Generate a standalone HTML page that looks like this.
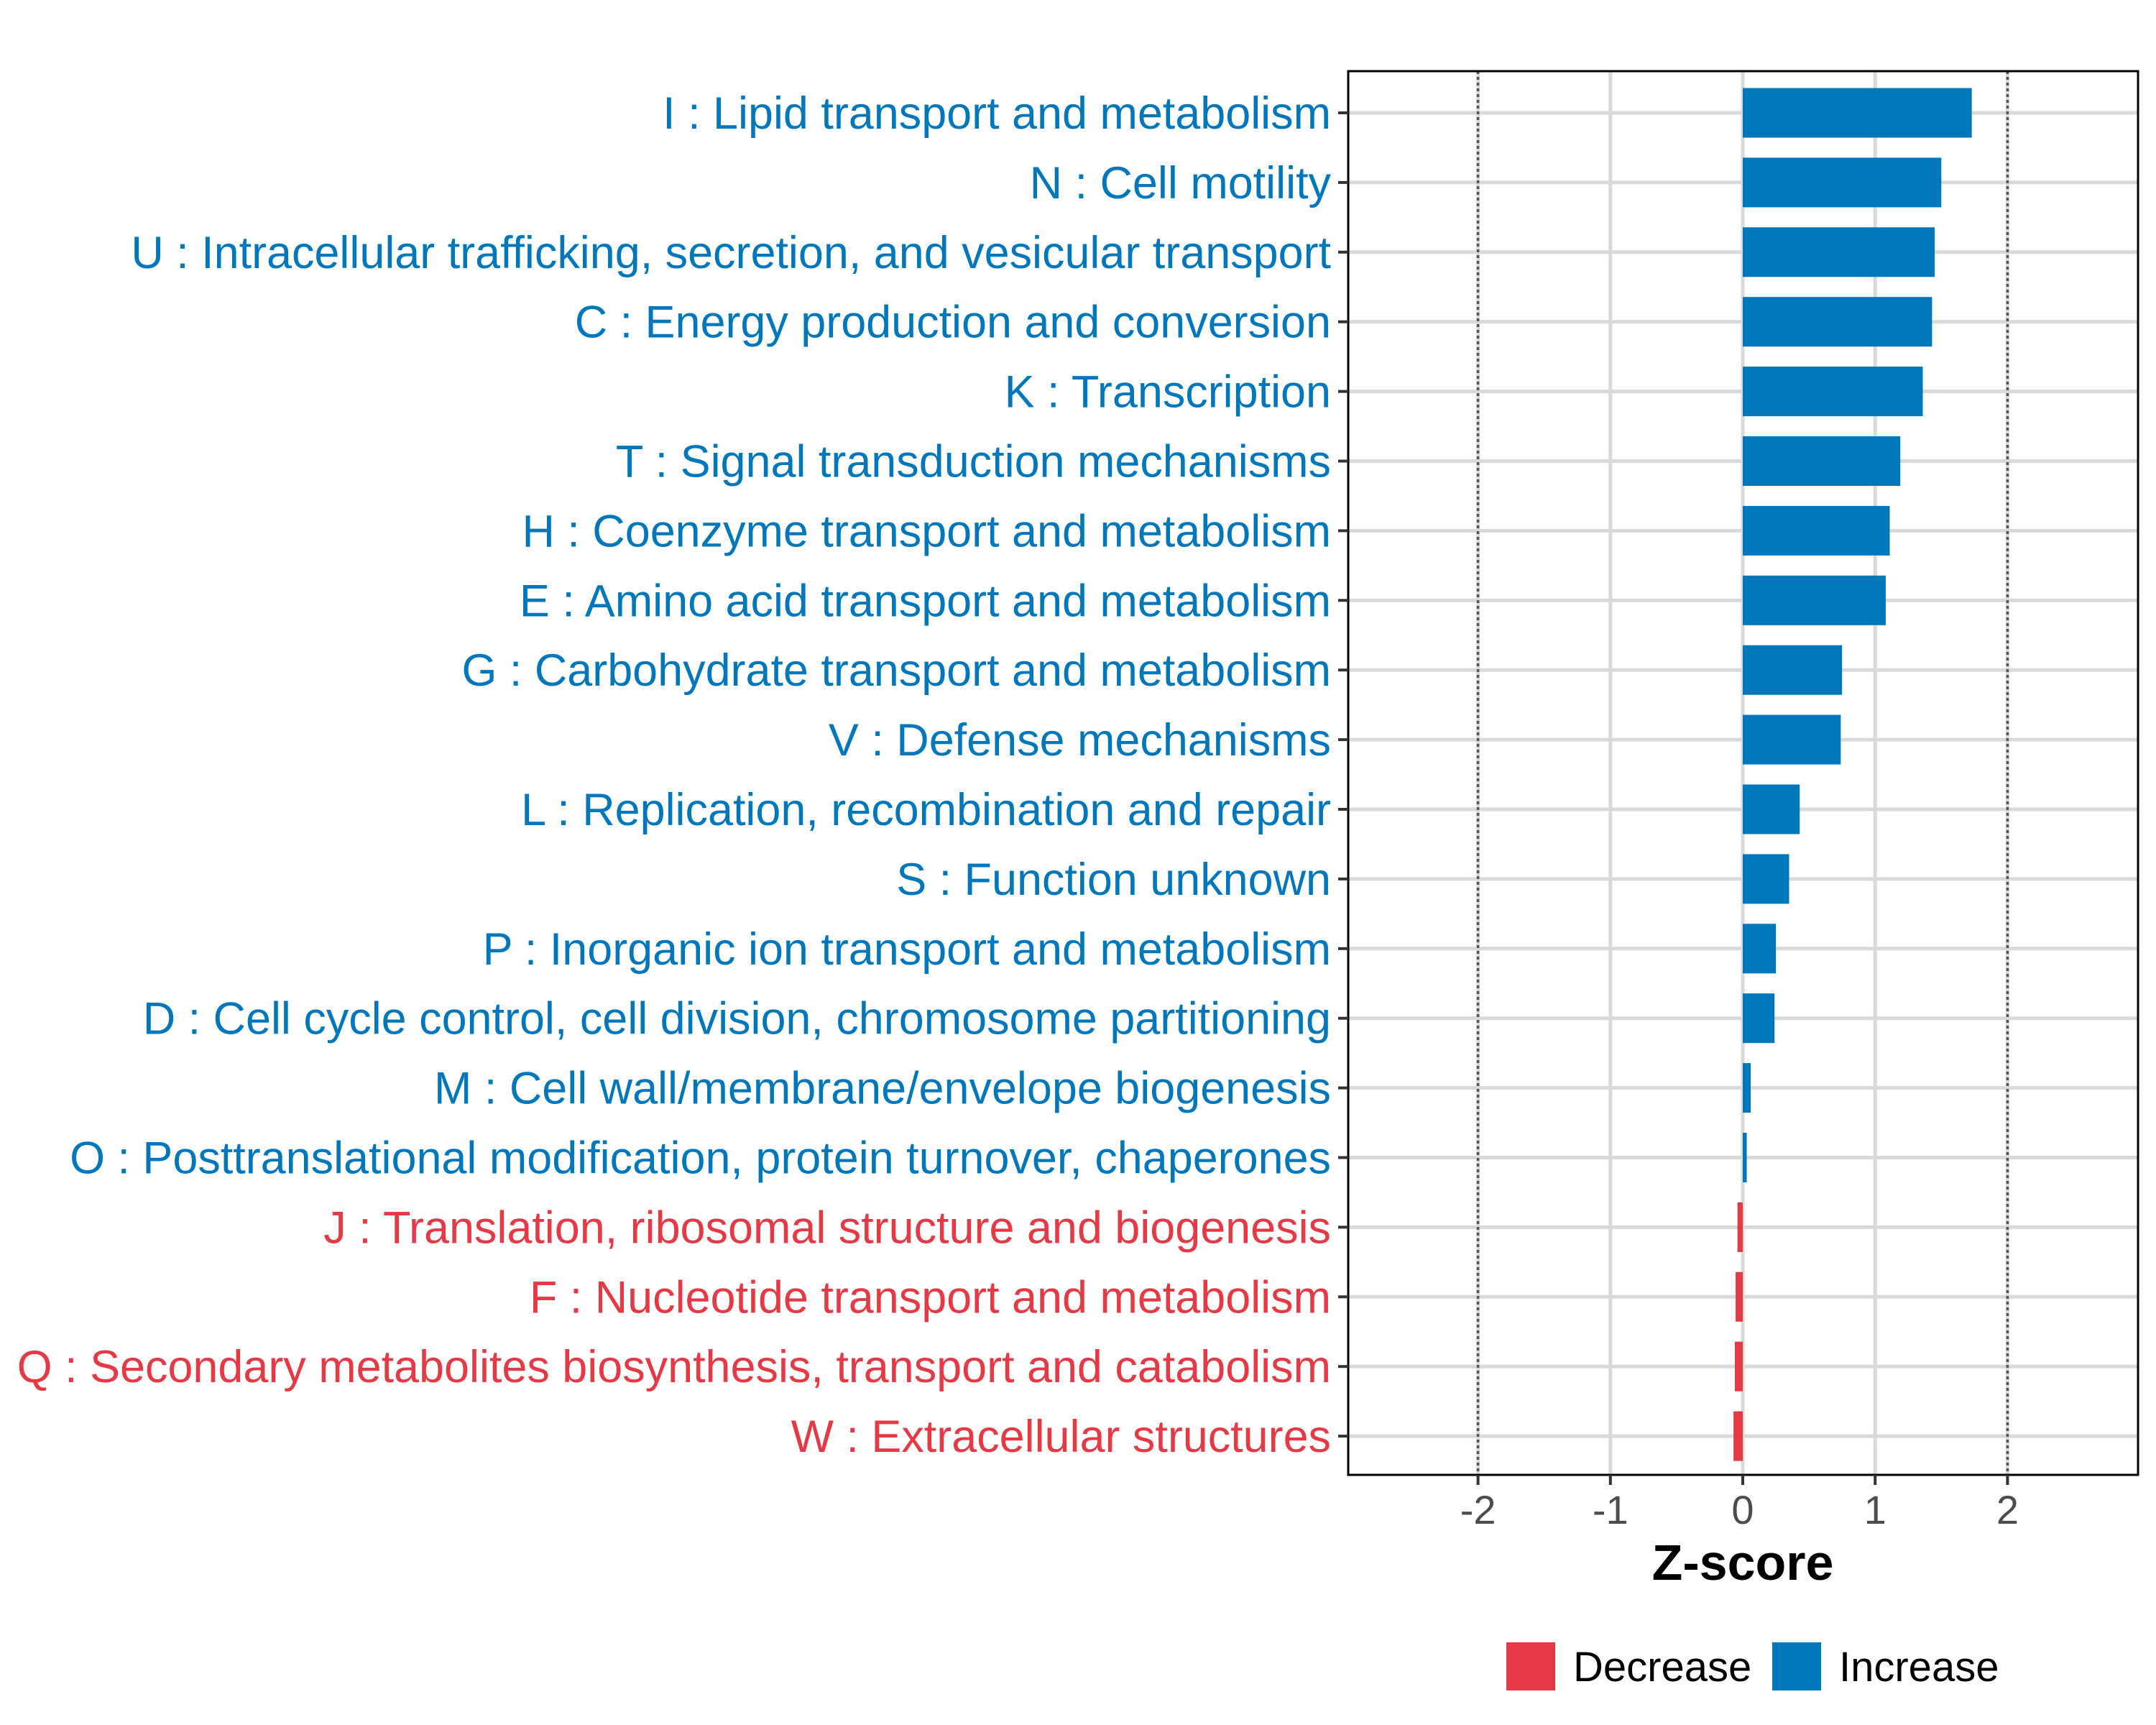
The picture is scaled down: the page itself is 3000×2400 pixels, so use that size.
<!DOCTYPE html>
<html><head><meta charset="utf-8"><style>
html,body{margin:0;padding:0;background:#fff;}
svg{display:block;font-family:"Liberation Sans",Arial,sans-serif;}
</style></head><body>
<svg id="chart" width="3000" height="2400" viewBox="0 0 3000 2400" xmlns="http://www.w3.org/2000/svg">
<rect width="3000" height="2400" fill="#fff"/>
<g id="grid"></g>
<g id="bars"></g>
<rect x="1876" y="99" width="1099" height="1953" fill="none" stroke="#000" stroke-width="3"/>
<g id="ylabels"></g>
<g id="xticks"></g>
<text x="2425" y="2198" text-anchor="middle" font-size="70" font-weight="bold" fill="#000">Z-score</text>
<g>
<rect x="2096" y="2285" width="68" height="67" fill="#E63946"/>
<text x="2189" y="2339" font-size="58" fill="#000">Decrease</text>
<rect x="2466" y="2285" width="68" height="67" fill="#0077BB"/>
<text x="2559" y="2339" font-size="58" fill="#000">Increase</text>
</g>
</svg>
<script>
const categories = ["I : Lipid transport and metabolism","N : Cell motility","U : Intracellular trafficking, secretion, and vesicular transport","C : Energy production and conversion","K : Transcription","T : Signal transduction mechanisms","H : Coenzyme transport and metabolism","E : Amino acid transport and metabolism","G : Carbohydrate transport and metabolism","V : Defense mechanisms","L : Replication, recombination and repair","S : Function unknown","P : Inorganic ion transport and metabolism","D : Cell cycle control, cell division, chromosome partitioning","M : Cell wall/membrane/envelope biogenesis","O : Posttranslational modification, protein turnover, chaperones","J : Translation, ribosomal structure and biogenesis","F : Nucleotide transport and metabolism","Q : Secondary metabolites biosynthesis, transport and catabolism","W : Extracellular structures"];
const zscores = [1.73,1.50,1.45,1.43,1.36,1.19,1.11,1.08,0.75,0.74,0.43,0.35,0.25,0.24,0.06,0.03,-0.04,-0.054,-0.06,-0.07];
const xTicks = [-2,-1,0,1,2];
const xTickLabels = ["-2","-1","0","1","2"];
const NS="http://www.w3.org/2000/svg";
const panelL=1876, panelR=2975, panelT=99, panelB=2052;
const x0=2425, unit=184.2;
function xs(v){return x0+v*unit;}
const rowTop=157, rowStep=96.9;
function ys(i){return rowTop+i*rowStep;}
const blue="#0077BB", red="#E63946";
function mk(tag,attrs,parent){const e=document.createElementNS(NS,tag);for(const k in attrs)e.setAttribute(k,attrs[k]);parent.appendChild(e);return e;}
const grid=document.getElementById('grid'), bars=document.getElementById('bars'), yl=document.getElementById('ylabels'), xt=document.getElementById('xticks');
categories.forEach((c,i)=>{
  const y=ys(i);
  const g=mk('line',{x1:panelL,x2:panelR,y1:y,y2:y,stroke:"#d9d9d9","stroke-width":5},grid);
  
  
});
xTicks.forEach((t,i)=>{
  const x=xs(t);
  const g=mk('line',{x1:x,x2:x,y1:panelT,y2:panelB,stroke:"#d9d9d9","stroke-width":5},grid);
  
  
});
[-2,2].forEach(t=>{
  const d=mk('line',{x1:xs(t),x2:xs(t),y1:panelT,y2:panelB,stroke:"#555","stroke-width":3.5,"stroke-dasharray":"4 4"},grid);
  
  
});
categories.forEach((c,i)=>{
  const v=zscores[i], y=ys(i), col=v<0?red:blue;
  const xa=xs(Math.min(0,v)), xb=xs(Math.max(0,v));
  const b=mk('rect',{x:xa,y:y-34.5,width:Math.max(xb-xa,1),height:69,fill:col},bars);
  
  
  const tk=mk('line',{x1:panelL-14,x2:panelL,y1:y,y2:y,stroke:"#333","stroke-width":4},yl);
  
  
  const t=mk('text',{x:1852,y:y+22,"text-anchor":"end","font-size":62.9,fill:col},yl);
  t.textContent=c;
  
  
});
xTicks.forEach((t,i)=>{
  const x=xs(t);
  const l=mk('line',{x1:x,x2:x,y1:panelB,y2:panelB+14,stroke:"#333","stroke-width":4},xt);
  
  
  const tx=mk('text',{x:x,y:2120,"text-anchor":"middle","font-size":56,fill:"#4d4d4d"},xt);
  tx.textContent=xTickLabels[i];
  
  
});
</script>
</body></html>
